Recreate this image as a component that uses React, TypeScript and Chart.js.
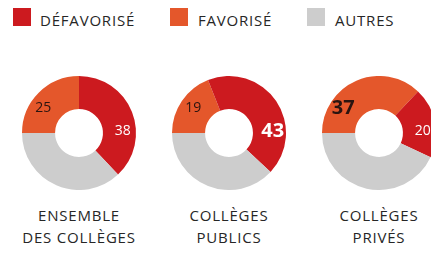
import React, { useEffect, useRef } from "react";
import { Chart, registerables } from "chart.js";
Chart.register(...registerables);

// ---- data ----
const seriesNames = ["FAVORISÉ", "DÉFAVORISÉ", "AUTRES"]; // drawing order, starting at 9 o'clock
const legendNames = ["DÉFAVORISÉ", "FAVORISÉ", "AUTRES"];
const groupLines = [
  ["ENSEMBLE", "DES COLLÈGES"],
  ["COLLÈGES", "PUBLICS"],
  ["COLLÈGES", "PRIVÉS"],
];
const favorise = [25, 19, 37];
const defavorise = [38, 43, 20];
const autres = [37, 38, 43];

// ---- style ----
const colors: Record<string, string> = {
  "FAVORISÉ": "#e4572b",
  "DÉFAVORISÉ": "#cc1a1f",
  "AUTRES": "#cdcdcd",
};
const labelColors: Record<string, string> = {
  "FAVORISÉ": "#2a1410",
  "DÉFAVORISÉ": "#ffffff",
};
// preferred label direction (degrees clockwise from 12 o'clock), clamped inside the slice
const labelAngles: Record<string, number> = {
  "FAVORISÉ": 305,
  "DÉFAVORISÉ": 88,
};
const emphasized = [null, "DÉFAVORISÉ", "FAVORISÉ"];
const FONT = "'Open Sans', 'DejaVu Sans', sans-serif";
const COL_W = 150;
const COL_X0 = 4;
const DONUT_TOP = 76;
const DONUT_H = 114;

const valueLabels = {
  id: "valueLabels",
  afterDatasetsDraw(chart: any, _args: any, opts: any) {
    const ctx = chart.ctx;
    const meta = chart.getDatasetMeta(0);
    meta.data.forEach((arc: any, i: number) => {
      const name = seriesNames[i];
      if (!(name in labelColors)) return;
      const p = arc.getProps(["startAngle", "endAngle", "innerRadius", "outerRadius", "x", "y"], true);
      // target angle in canvas radians
      let t = ((labelAngles[name] - 90) * Math.PI) / 180;
      while (t < p.startAngle) t += Math.PI * 2;
      while (t > p.startAngle + Math.PI * 2) t -= Math.PI * 2;
      const margin = (p.endAngle - p.startAngle) * 0.2;
      let a: number;
      if (t >= p.startAngle + margin && t <= p.endAngle - margin) a = t;
      else {
        const dEnd = t - p.endAngle;
        const dStart = p.startAngle + Math.PI * 2 - t;
        a = dEnd < dStart ? p.endAngle - margin : p.startAngle + margin;
      }
      const r = p.innerRadius + (p.outerRadius - p.innerRadius) * 0.6;
      const x = p.x + Math.cos(a) * r;
      const y = p.y + Math.sin(a) * r;
      const big = opts.emph === name;
      ctx.save();
      ctx.fillStyle = labelColors[name];
      ctx.font = (big ? "bold 20px " : "14px ") + FONT;
      ctx.textAlign = "center";
      ctx.textBaseline = "middle";
      ctx.fillText(String(chart.data.datasets[0].data[i]), x, y);
      ctx.restore();
    });
  },
};

function Donut({ idx }: { idx: number }) {
  const ref = useRef<HTMLCanvasElement | null>(null);
  useEffect(() => {
    if (!ref.current) return;
    const values = [favorise[idx], defavorise[idx], autres[idx]];
    const chart = new Chart(ref.current, {
      type: "doughnut",
      data: {
        labels: seriesNames,
        datasets: [
          {
            data: values,
            backgroundColor: seriesNames.map((n) => colors[n]),
            borderWidth: 0,
          },
        ],
      },
      options: {
        animation: false,
        responsive: false,
        maintainAspectRatio: false,
        rotation: -90,
        cutout: "42%",
        layout: { padding: 0 },
        plugins: {
          legend: { display: false },
          tooltip: { enabled: false },
          valueLabels: { emph: emphasized[idx] },
        } as any,
      },
      plugins: [valueLabels],
    });
    return () => chart.destroy();
  }, [idx]);
  return (
    <canvas
      ref={ref}
      width={COL_W}
      height={DONUT_H}
      style={{ position: "absolute", left: COL_X0 + idx * COL_W, top: DONUT_TOP, width: COL_W, height: DONUT_H }}
    />
  );
}

const legendPos = [
  { sq: 13, tx: 40 },
  { sq: 170, tx: 198 },
  { sq: 307, tx: 335 },
];

export default function App() {
  return (
    <div
      style={{
        position: "fixed",
        left: 0,
        top: 0,
        width: 431,
        height: 256,
        overflow: "hidden",
        background: "#ffffff",
        fontFamily: FONT,
        color: "#262626",
      }}
    >
      {legendNames.map((n, i) => (
        <React.Fragment key={n}>
          <div
            style={{
              position: "absolute",
              left: legendPos[i].sq,
              top: 8,
              width: 18,
              height: 18,
              background: colors[n],
            }}
          />
          <div
            style={{
              position: "absolute",
              left: legendPos[i].tx,
              top: 10,
              fontSize: 15,
              lineHeight: "20px",
              letterSpacing: 0.8,
              whiteSpace: "nowrap",
            }}
          >
            {n}
          </div>
        </React.Fragment>
      ))}
      {groupLines.map((_, i) => (
        <Donut key={i} idx={i} />
      ))}
      {groupLines.map((lines, i) => (
        <div
          key={"t" + i}
          style={{
            position: "absolute",
            left: COL_X0 + i * COL_W,
            top: 204,
            width: COL_W,
            textAlign: "center",
            fontSize: 15,
            lineHeight: "22px",
            letterSpacing: 0.8,
            whiteSpace: "nowrap",
          }}
        >
          {lines.map((l) => (
            <div key={l}>{l}</div>
          ))}
        </div>
      ))}
    </div>
  );
}
